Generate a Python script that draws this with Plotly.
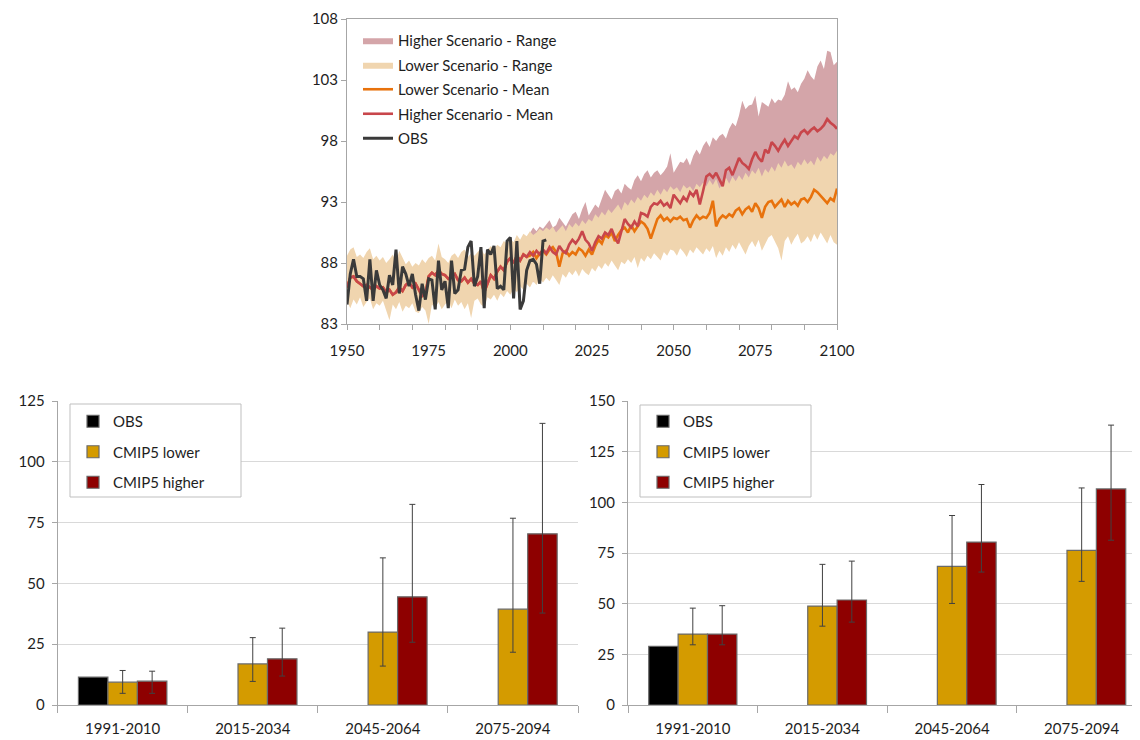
import plotly.graph_objects as go

# ---------------- top chart data ----------------
years = list(range(1950, 2101))
obs_years = list(range(1950, 2012))
hi_years = list(range(2005, 2101))

obs = [84.6, 87.1, 88.3, 86.9, 86.9, 86.7, 84.9, 88.3, 84.9, 87.4,
       86.2, 85.8, 85.1, 87.0, 86.2, 89.1, 85.5, 87.7, 87.1, 86.1,
       87.1, 85.4, 84.1, 86.3, 85.0, 86.7, 86.6, 84.2, 88.2, 85.8,
       86.5, 84.3, 88.2, 85.5, 85.8, 87.4, 87.5, 89.3, 89.8, 86.1,
       86.9, 89.3, 84.3, 89.1, 88.7, 89.4, 85.9, 86.1, 85.8, 89.8,
       90.1, 85.1, 89.8, 84.2, 84.9, 87.4, 88.2, 88.3, 87.9, 86.3,
       89.8, 89.9]

# shared historical model mean 1950-2005
hist_mean = [86.0, 86.8, 86.9, 86.5, 86.3, 86.1, 86.2, 86.0, 85.8, 86.1,
             85.9, 86.0, 85.6, 85.8, 85.4, 85.6, 86.0, 85.7, 86.2, 86.4,
             86.0, 86.3, 85.8, 85.3, 85.5, 86.9, 87.2, 87.0, 87.4, 87.1,
             87.0, 86.7, 86.9, 87.1, 86.6, 86.5, 86.8, 86.4, 86.7, 86.3,
             86.2, 86.5, 85.6, 86.3, 87.0, 86.7, 87.3, 87.7, 87.4, 88.1,
             88.4, 88.0, 88.6, 88.2, 88.7, 88.5]

# 2006-2100
lower_mean_future = [88.6, 88.9, 88.4, 88.8,
                     89.0, 88.7, 89.1, 89.3, 88.9, 87.7, 88.8, 89.0, 88.6, 88.9,
                     88.7, 89.2, 89.0, 88.6, 89.1, 88.7, 89.4, 89.9, 89.6, 90.3,
                     90.1, 90.5, 89.8, 90.3, 90.7, 90.9, 90.5, 91.1, 90.6, 91.0,
                     91.4, 91.2, 90.8, 90.0, 90.9, 91.6, 91.9, 91.5, 91.7, 91.4,
                     91.7, 91.6, 91.8, 91.5, 91.6, 90.9, 91.5, 91.9, 91.6, 91.8,
                     91.7, 92.1, 93.1, 91.0, 91.6, 91.9, 91.7, 92.0, 91.8, 92.3,
                     92.5, 92.0, 92.4, 92.6, 92.2, 92.9, 92.5, 91.7, 92.6, 93.0,
                     93.1, 92.6, 92.9, 93.2, 92.6, 93.1, 92.8, 93.0, 92.7, 93.2,
                     93.3, 93.0, 93.4, 94.0, 93.8, 93.5, 93.2, 92.9, 93.3, 93.1,
                     94.1]

higher_mean_future = [88.9, 88.6, 89.0, 88.7,
                      89.1, 88.8, 89.3, 88.9, 88.7, 89.4, 89.0, 88.8, 89.5, 89.9,
                      89.6, 90.0, 90.6, 89.9, 89.6, 89.0, 89.7, 90.2, 90.0, 90.5,
                      90.3, 90.8, 90.1, 89.6, 90.5, 91.6, 91.2, 90.9, 91.4, 91.0,
                      92.1, 92.0, 91.8, 92.6, 92.9, 92.8, 93.1, 92.7, 92.9, 92.5,
                      93.6, 93.2, 92.9, 93.4, 93.1, 93.8, 93.5, 94.0, 92.8, 93.9,
                      95.1, 95.3, 95.0, 95.4, 94.9, 94.3, 95.6, 95.8, 95.2, 95.9,
                      96.6, 96.2, 96.0, 95.7, 96.5, 97.1, 96.6, 96.3, 97.3, 97.0,
                      97.9, 97.6, 97.2, 97.7, 98.1, 97.6, 98.0, 98.4, 98.2, 98.7,
                      98.9, 98.6, 98.9, 99.1, 98.8, 99.0, 99.3, 99.8, 99.5, 99.3,
                      99.0]

# lower scenario range 1950-2100
lower_max = [88.6, 89.1, 89.3, 88.5, 88.7, 88.4, 88.9, 89.2, 88.3, 88.6,
             88.2, 88.5, 88.0, 88.3, 88.7, 88.1, 89.0, 88.4, 87.9, 88.2,
             87.7, 88.0, 87.8, 88.3, 88.0, 88.4, 88.6, 88.2, 89.6, 88.5,
             88.3, 88.0, 88.6, 88.8, 88.4, 88.9, 89.1, 88.5, 88.8, 88.6,
             88.9, 89.2, 88.7, 89.0, 89.4, 89.1, 89.5, 89.3, 89.8, 89.6,
             90.0, 89.7, 90.3, 89.9, 90.4, 90.2, 90.6, 90.3, 90.5, 90.8,
             90.6, 90.9, 90.7, 91.0, 90.5, 90.8, 91.1, 90.6, 91.2, 90.9,
             91.3, 91.0, 91.5, 91.2, 91.6, 91.4, 92.0, 91.7, 92.2, 91.9,
             92.4, 92.1, 92.5, 92.8, 92.3, 93.0, 92.7, 93.2, 92.9, 93.4,
             93.1, 93.6, 93.3, 93.8, 93.5, 94.0, 93.6, 94.1, 93.8, 94.3,
             94.0, 94.2, 93.8, 94.4, 94.1, 94.3, 93.9, 94.5, 94.2, 94.6,
             94.3, 94.8, 94.4, 94.9, 94.1, 94.6, 95.0, 94.5, 95.1, 94.7,
             95.2, 94.8, 95.4, 95.0, 95.6, 95.3, 95.8, 95.1, 95.7, 95.4,
             95.9, 95.5, 96.2, 95.8, 96.4, 95.9, 96.1, 95.7, 96.3, 96.0,
             96.5, 96.1, 96.4, 96.0, 96.7, 96.3, 96.8, 96.5, 97.0, 96.8,
             97.2]

lower_min = [84.9, 84.3, 85.0, 84.6, 85.2, 84.4, 84.8, 85.1, 84.2, 84.7,
             84.5, 84.9, 84.1, 83.3, 84.6, 84.2, 84.8, 84.0, 84.5, 84.3,
             84.7, 84.0, 83.9, 84.4, 84.1, 83.0, 84.6, 84.3, 84.8, 84.2,
             84.6, 84.9, 84.3, 85.0, 84.5, 84.8, 84.2, 84.7, 83.5, 84.9,
             85.1, 84.6, 84.4, 85.2, 85.0, 85.4, 84.9, 85.5, 85.2, 85.7,
             85.4, 85.9, 85.6, 86.1, 85.8, 86.3, 86.0, 86.5, 86.2, 86.7,
             86.4, 86.8, 86.5, 87.0, 86.6, 86.2, 87.1, 86.8, 87.3, 87.0,
             87.4, 86.9, 87.5, 87.2, 87.0, 87.6, 87.3, 87.8, 87.5, 88.0,
             87.7, 88.2, 87.8, 87.4, 88.1, 87.9, 88.3, 88.0, 88.5, 87.6,
             88.4, 88.1, 88.6, 88.3, 88.8, 88.5, 88.2, 88.9, 88.6, 89.1,
             89.0, 88.6, 89.2, 88.9, 88.5, 89.1, 88.8, 89.3, 89.0, 88.7,
             89.2, 88.9, 89.4, 88.4, 89.0, 88.6, 89.3, 88.9, 89.5, 89.1,
             89.7, 89.2, 88.7, 89.4, 89.8, 89.3, 89.9, 89.0, 89.6, 90.1,
             90.3, 89.7, 89.2, 88.2, 89.8, 90.2, 89.5, 90.0, 90.4, 89.6,
             89.8, 90.2, 89.7, 90.4, 89.9, 90.5, 90.1, 89.6, 90.3, 89.7,
             89.5]

# higher scenario range 2005-2100
higher_max = [90.0,
              90.4, 90.9, 90.6, 91.0,
              90.8, 91.2, 91.5, 90.9, 91.1, 91.7, 91.3, 91.0, 91.5, 92.0,
              92.2, 91.6, 92.4, 93.0, 91.9, 92.3, 92.8, 92.5, 93.3, 94.0,
              93.6, 93.2, 93.9, 94.1, 93.7, 94.5, 94.2, 94.0, 94.8, 95.2,
              94.7, 95.3, 95.6, 95.0, 95.4, 95.6, 95.2, 95.5, 95.9, 97.0,
              95.4, 95.8, 96.3, 96.2, 96.6, 96.0, 96.8, 97.3, 96.9, 97.6,
              98.0, 97.5, 98.3, 98.0, 98.4, 98.6, 98.2, 99.0, 99.5, 99.2,
              100.1, 101.3, 100.6, 100.9, 101.0, 101.7, 100.0, 101.2, 101.0, 100.8,
              101.5, 101.1, 101.4, 101.3, 101.8, 102.9, 102.2, 102.4, 102.0, 102.7,
              103.1, 103.8, 103.3, 103.0, 104.1, 104.6, 103.9, 105.4, 105.3, 104.2,
              104.5]

higher_min = [86.5,
              86.7, 86.4, 86.9, 86.6,
              86.9, 87.2, 86.8, 87.3, 87.0, 87.5, 87.2, 87.6, 87.3, 87.8,
              87.6, 88.0, 87.7, 88.2, 87.9, 88.4, 88.1, 88.6, 88.3, 88.8,
              88.6, 89.0, 88.7, 89.2, 88.9, 89.4, 89.1, 89.6, 89.3, 89.8,
              89.6, 90.0, 89.7, 90.2, 89.9, 90.4, 90.1, 90.5, 90.2, 90.7,
              90.4, 90.8, 90.5, 91.0, 90.7, 91.1, 90.8, 91.3, 91.0, 91.5,
              91.2, 91.6, 91.3, 91.8, 91.4, 91.9, 91.6, 92.0, 91.7, 92.2,
              91.9, 92.3, 92.0, 92.5, 92.1, 92.6, 92.3, 92.8, 92.4, 92.9,
              92.6, 93.0, 92.7, 93.2, 92.8, 93.3, 93.0, 93.4, 93.1, 93.6,
              93.3, 93.7, 93.4, 93.9, 93.5, 94.0, 93.7, 94.2, 93.8, 94.3,
              94.0]

top_y_ticks = [83, 88, 93, 98, 103, 108]
top_x_labels = [1950, 1975, 2000, 2025, 2050, 2075, 2100]
top_x_marks = list(range(1950, 2101, 10))

# ---------------- bottom charts data ----------------
periods = ["1991-2010", "2015-2034", "2045-2064", "2075-2094"]

left_obs = [11.5, None, None, None]
left_lower = [9.4, 16.9, 30.0, 39.4]
left_lower_lo = [4.8, 9.7, 16.0, 21.7]
left_lower_hi = [14.2, 27.7, 60.5, 76.8]
left_higher = [9.8, 19.0, 44.5, 70.4]
left_higher_lo = [4.8, 11.9, 25.8, 37.8]
left_higher_hi = [13.9, 31.6, 82.5, 115.8]
left_y_ticks = [0, 25, 50, 75, 100, 125]

right_obs = [29.0, None, None, None]
right_lower = [35.0, 48.8, 68.4, 76.3]
right_lower_lo = [29.7, 38.9, 50.1, 61.0]
right_lower_hi = [47.8, 69.4, 93.5, 107.1]
right_higher = [35.0, 51.8, 80.4, 106.6]
right_higher_lo = [29.7, 40.9, 65.6, 81.3]
right_higher_hi = [49.0, 71.0, 108.8, 138.1]
right_y_ticks = [0, 25, 50, 75, 100, 125, 150]

# ---------------- styling ----------------
OFF = 8                      # page body margin of the browser
W, H = 1140 - OFF, 740 - OFF  # figure size so the page fits the window exactly
FONT = "Lato, 'Open Sans', sans-serif"
TXT = "#1e1e1e"
AXC = "#A6A6A6"
GRID = "#D9D9D9"
PINK = "#D4A5A9"
TAN = "#F0D5AF"
ORANGE = "#E8720C"
RED = "#C8464B"
OBSC = "#3A3A3A"
GOLD = "#D49B00"
DRED = "#8E0000"
BAR_EDGE = "#6A6A6A"
ERRC = "#404040"


def px(x):
    # window pixel -> paper fraction
    return (x - OFF) / W


def py(y):
    return 1 - (y - OFF) / H


lower_mean = hist_mean + lower_mean_future
higher_mean = hist_mean + higher_mean_future

fig = go.Figure()

# --- top chart ---
fig.add_trace(go.Scatter(x=hi_years, y=higher_min, mode="lines", line=dict(width=0, color=PINK),
                         showlegend=False, hoverinfo="skip", xaxis="x", yaxis="y"))
fig.add_trace(go.Scatter(x=hi_years, y=higher_max, mode="lines", line=dict(width=0, color=PINK),
                         fill="tonexty", fillcolor=PINK, name="Higher Scenario - Range",
                         legend="legend", legendgroup="t1", xaxis="x", yaxis="y"))
fig.add_trace(go.Scatter(x=years, y=lower_min, mode="lines", line=dict(width=0, color=TAN),
                         showlegend=False, hoverinfo="skip", xaxis="x", yaxis="y"))
fig.add_trace(go.Scatter(x=years, y=lower_max, mode="lines", line=dict(width=0, color=TAN),
                         fill="tonexty", fillcolor=TAN, name="Lower Scenario - Range",
                         legend="legend", legendgroup="t2", xaxis="x", yaxis="y"))
fig.add_trace(go.Scatter(x=years, y=lower_mean, mode="lines", line=dict(width=2.6, color=ORANGE),
                         name="Lower Scenario - Mean", legend="legend", legendgroup="t3",
                         xaxis="x", yaxis="y"))
fig.add_trace(go.Scatter(x=years, y=higher_mean, mode="lines", line=dict(width=2.6, color=RED),
                         name="Higher Scenario - Mean", legend="legend", legendgroup="t4",
                         xaxis="x", yaxis="y"))
fig.add_trace(go.Scatter(x=obs_years, y=obs, mode="lines", line=dict(width=3, color=OBSC),
                         name="OBS", legend="legend", legendgroup="t5", xaxis="x", yaxis="y"))
# dummy trace to carry the labelled overlay axis
fig.add_trace(go.Scatter(x=[1950, 2100], y=[None, None], mode="lines", showlegend=False,
                         hoverinfo="skip", xaxis="x4", yaxis="y"))


def add_bars(obs_v, lo_v, lo_lo, lo_hi, hi_v, hi_lo, hi_hi, xa, ya, lg, pre):
    fig.add_trace(go.Bar(x=periods, y=obs_v, name="OBS", marker=dict(color="#000000",
                         line=dict(color=BAR_EDGE, width=1.2)), xaxis=xa, yaxis=ya,
                         legend=lg, legendgroup=pre + "o"))
    fig.add_trace(go.Bar(x=periods, y=lo_v, name="CMIP5 lower",
                         marker=dict(color=GOLD, line=dict(color=BAR_EDGE, width=1.2)),
                         error_y=dict(type="data", symmetric=False,
                                      array=[h - v for h, v in zip(lo_hi, lo_v)],
                                      arrayminus=[v - l for v, l in zip(lo_v, lo_lo)],
                                      color=ERRC, thickness=1, width=3),
                         xaxis=xa, yaxis=ya, legend=lg, legendgroup=pre + "l"))
    fig.add_trace(go.Bar(x=periods, y=hi_v, name="CMIP5 higher",
                         marker=dict(color=DRED, line=dict(color=BAR_EDGE, width=1.2)),
                         error_y=dict(type="data", symmetric=False,
                                      array=[h - v for h, v in zip(hi_hi, hi_v)],
                                      arrayminus=[v - l for v, l in zip(hi_v, hi_lo)],
                                      color=ERRC, thickness=1, width=3),
                         xaxis=xa, yaxis=ya, legend=lg, legendgroup=pre + "h"))


add_bars(left_obs, left_lower, left_lower_lo, left_lower_hi,
         left_higher, left_higher_lo, left_higher_hi, "x2", "y2", "legend2", "L")
add_bars(right_obs, right_lower, right_lower_lo, right_lower_hi,
         right_higher, right_higher_lo, right_higher_hi, "x3", "y3", "legend3", "R")

tickfont = dict(family=FONT, size=15, color=TXT)
top_dom_x = [px(347), px(837)]
top_dom_y = [py(324), py(19)]
bot_dom_y = [py(705), py(401)]

fig.update_layout(
    width=W, height=H,
    margin=dict(l=0, r=0, t=0, b=0, pad=0),
    paper_bgcolor="white", plot_bgcolor="white",
    font=dict(family=FONT, size=15, color=TXT),
    barmode="group", bargap=0.32, bargroupgap=0,
    showlegend=True,
    xaxis=dict(domain=top_dom_x, anchor="y", range=[1950, 2100], tickmode="array",
               tickvals=top_x_marks, showticklabels=False, ticks="outside", ticklen=5,
               tickcolor=AXC, showline=True, linecolor=AXC, linewidth=1, mirror=True,
               showgrid=False, zeroline=False, automargin=False),
    xaxis4=dict(domain=top_dom_x, anchor="y", overlaying="x", range=[1950, 2100],
                tickmode="array", tickvals=top_x_labels, ticks="", showline=False,
                showgrid=False, zeroline=False, tickfont=tickfont, side="bottom",
                ticklabelstandoff=16, automargin=False, ticklabeloverflow="allow"),
    yaxis=dict(domain=top_dom_y, anchor="x", range=[83, 108], tickmode="array",
               tickvals=top_y_ticks, ticks="outside", ticklen=5, tickcolor=AXC,
               showline=True, linecolor=AXC, linewidth=1, mirror=True, showgrid=False,
               zeroline=False, tickfont=tickfont, automargin=False,
               ticklabeloverflow="allow"),
    xaxis2=dict(domain=[px(57.6), px(578)], anchor="y2", type="category",
                categoryorder="array", categoryarray=periods, range=[-0.5, 3.5],
                tickson="boundaries", ticks="outside", ticklen=7, tickcolor=AXC,
                showline=True, linecolor=AXC, linewidth=1, showgrid=False,
                tickfont=tickfont, ticklabelstandoff=10, automargin=False),
    yaxis2=dict(domain=bot_dom_y, anchor="x2", range=[0, 125], tickmode="array",
                tickvals=left_y_ticks, ticks="outside", ticklen=5, tickcolor=AXC,
                showline=True, linecolor=AXC, linewidth=1, showgrid=True,
                gridcolor=GRID, gridwidth=1, zeroline=False, tickfont=tickfont,
                ticklabelstandoff=4, automargin=False, ticklabeloverflow="allow"),
    xaxis3=dict(domain=[px(628), 1.0], anchor="y3", type="category",
                categoryorder="array", categoryarray=periods, range=[-0.5, 3.45],
                tickson="boundaries", ticks="outside", ticklen=7, tickcolor=AXC,
                showline=True, linecolor=AXC, linewidth=1, showgrid=False,
                tickfont=tickfont, ticklabelstandoff=10, automargin=False),
    yaxis3=dict(domain=bot_dom_y, anchor="x3", range=[0, 150], tickmode="array",
                tickvals=right_y_ticks, ticks="outside", ticklen=5, tickcolor=AXC,
                showline=True, linecolor=AXC, linewidth=1, showgrid=True,
                gridcolor=GRID, gridwidth=1, zeroline=False, tickfont=tickfont,
                ticklabelstandoff=4, automargin=False, ticklabeloverflow="allow"),
    legend=dict(x=px(358), y=py(24), xanchor="left", yanchor="top", bgcolor="rgba(0,0,0,0)",
                borderwidth=0, traceorder="grouped", tracegroupgap=2,
                font=dict(family=FONT, size=15, color=TXT)),
    legend2=dict(x=px(73), y=py(405), xanchor="left", yanchor="top", bgcolor="rgba(0,0,0,0)",
                 borderwidth=0, traceorder="grouped", tracegroupgap=8,
                 font=dict(family=FONT, size=15, color=TXT)),
    legend3=dict(x=px(643), y=py(405), xanchor="left", yanchor="top", bgcolor="rgba(0,0,0,0)",
                 borderwidth=0, traceorder="grouped", tracegroupgap=8,
                 font=dict(family=FONT, size=15, color=TXT)),
    shapes=[
        dict(type="rect", xref="paper", yref="paper", x0=px(70), x1=px(241), y0=py(497),
             y1=py(404), line=dict(color="#BFBFBF", width=1), fillcolor="white", layer="above"),
        dict(type="rect", xref="paper", yref="paper", x0=px(640), x1=px(811), y0=py(497),
             y1=py(405), line=dict(color="#BFBFBF", width=1), fillcolor="white", layer="above"),
    ],
)

fig.write_html("out.html")
